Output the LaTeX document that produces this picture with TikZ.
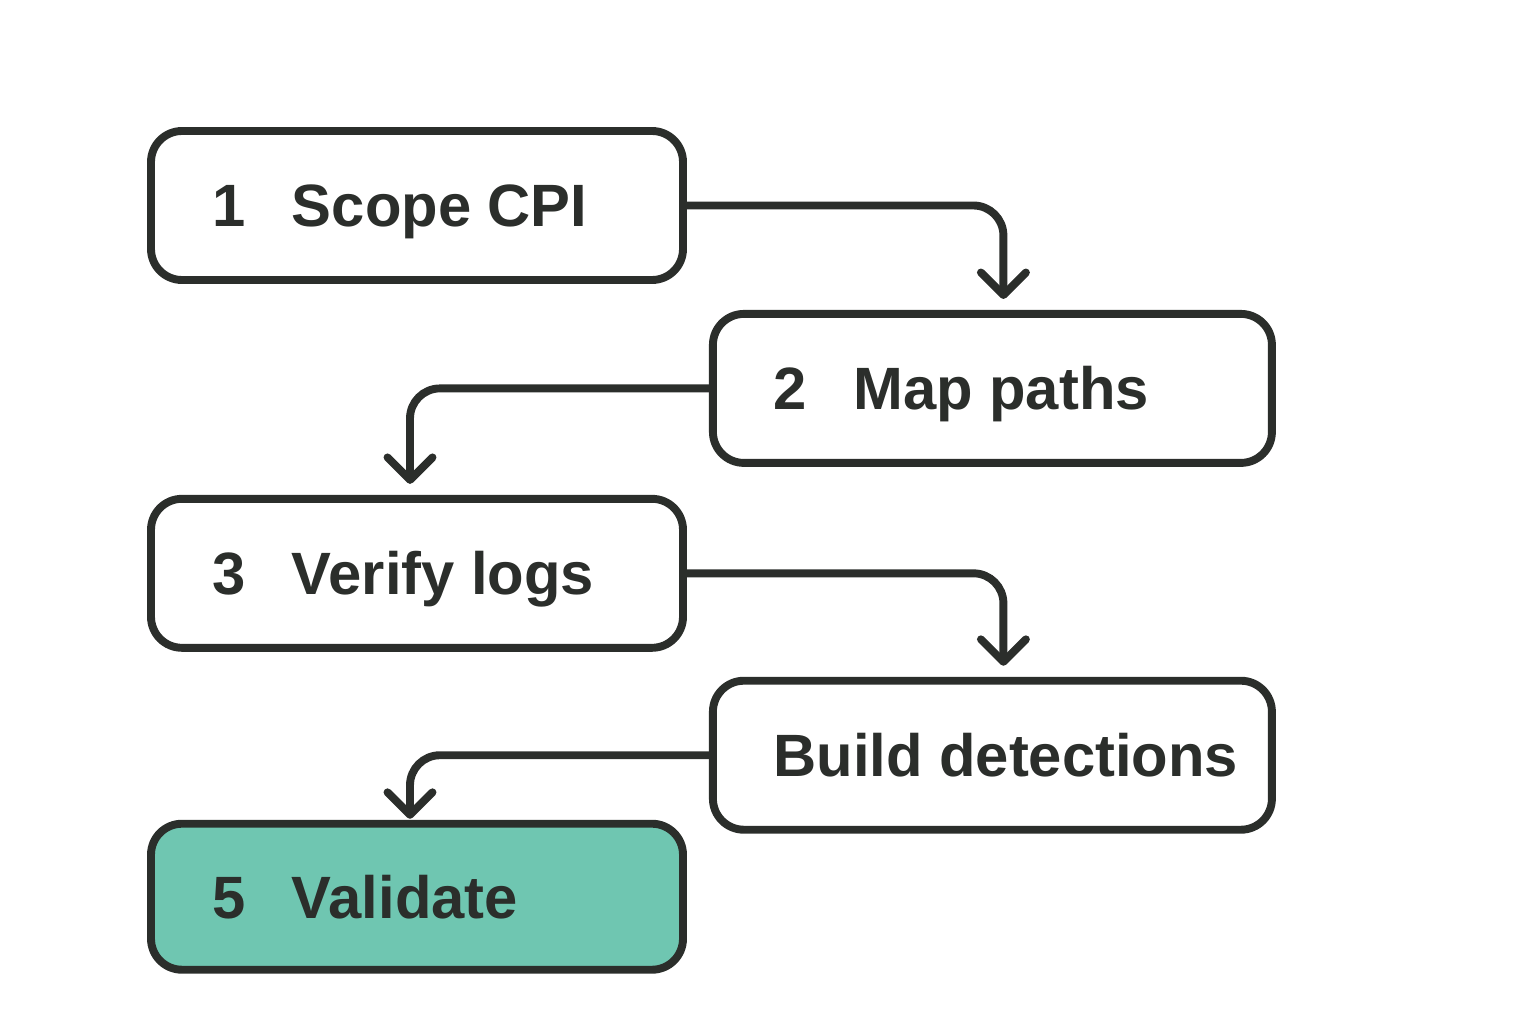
\documentclass[tikz,border=0pt]{standalone}
\usepackage{fontspec}
\setmainfont{Liberation Sans}
\usetikzlibrary{arrows.meta,positioning}

\definecolor{inkdark}{HTML}{2B2E2B}
\definecolor{doneteal}{HTML}{6FC6B1}

\newcommand{\stepnum}[1]{\makebox[1.6cm][l]{#1}}

\begin{document}
\begin{tikzpicture}[
  >={Straight Barb[length=4.5mm,width=9mm,round]},
  stepbox/.style={draw=inkdark, line width=4.5pt, rounded corners=0.62cm,
                  fill=white, minimum width=10.64cm, minimum height=2.98cm,
                  inner xsep=1.2cm, text height=0.86cm, text depth=0cm,
                  font=\fontsize{34}{40}\selectfont\bfseries, text=inkdark},
  widebox/.style={stepbox, minimum width=11.18cm},
  flow/.style={draw=inkdark, line width=4.5pt, rounded corners=0.6cm, ->,
               shorten >=0.22cm}
]
  \useasboundingbox (0,0) rectangle (30.72,20.48);

  \node[stepbox] (scope) at (8.34,16.37)
    {\makebox[8.2cm][l]{\stepnum{1}Scope CPI}};
  \node[widebox, below right=0.52cm and 0.44cm of scope] (map)
    {\makebox[8.76cm][l]{\stepnum{2}Map paths}};
  \node[stepbox, below left=0.56cm and 0.44cm of map] (verify)
    {\makebox[8.2cm][l]{\stepnum{3}Verify logs}};
  \node[widebox, below right=0.5cm and 0.44cm of verify] (build)
    {\makebox[8.76cm][l]{Build detections}};
  \node[stepbox, fill=doneteal, minimum height=2.92cm,
        below=3.36cm of verify] (validate)
    {\makebox[8.2cm][l]{\stepnum{5}Validate}};

  \draw[flow] (scope.east) -| ([xshift=0.22cm]map.north);
  \draw[flow] (map.west) -| ([xshift=-0.14cm]verify.north);
  \draw[flow] (verify.east) -| ([xshift=0.22cm]build.north);
  \draw[flow, shorten >=0.02cm] (build.west) -| ([xshift=-0.14cm]validate.north);
\end{tikzpicture}
\end{document}
